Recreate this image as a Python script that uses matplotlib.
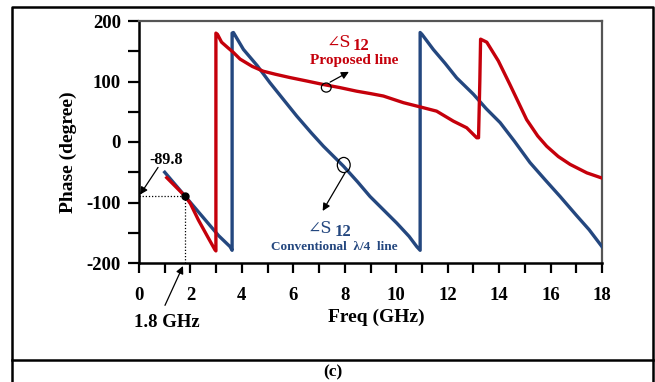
import matplotlib
matplotlib.use("Agg")
import matplotlib.pyplot as plt
from matplotlib.patches import Ellipse
from matplotlib.lines import Line2D

# Conventional quarter-wave line: phase of S12 (degrees) vs frequency (GHz)
conv_freq = [1.0, 1.5, 1.8, 2.24, 2.7, 3.1, 3.54, 3.62,
             3.62, 3.67, 4.06, 4.6, 5.09, 5.6, 6.13, 6.7, 7.17, 7.95, 8.5,
             8.98, 9.5, 10.02, 10.5, 10.8, 10.93,
             10.93, 11.0, 11.44, 11.9, 12.35, 13.0, 13.5, 14.04, 14.6, 15.2,
             15.8, 16.37, 17.0, 17.5, 18.0]
conv_phase = [-50, -75, -90, -112, -135, -155, -173, -179,
              180, 181, 153, 126, 98, 71, 43, 15, -7, -40, -66,
              -90, -112, -134, -156, -173, -179,
              181, 178, 153, 130, 106, 79, 55, 32, 1, -34,
              -63, -90, -121, -145, -173]

# Proposed line: phase of S12 (degrees) vs frequency (GHz)
prop_freq = [1.08, 1.5, 1.8, 2.0, 2.31, 2.7, 2.95, 2.99,
             2.99, 3.05, 3.21, 3.45, 3.67, 3.93, 4.4, 4.83, 5.3, 5.87, 6.5,
             7.17, 7.8, 8.46, 9.0, 9.5, 10.28, 10.93, 11.57, 12.22, 12.74, 13.13, 13.2,
             13.25, 13.28, 13.52, 13.97, 14.42, 15.07, 15.5, 15.85, 16.3, 16.76,
             17.41, 17.99]
prop_phase = [-59, -77, -89.8, -102, -129, -159, -178, -180,
              180, 178, 165, 156, 148, 137, 125, 117, 112, 106.5, 101,
              95, 90, 84, 80, 76, 65, 58, 51, 34.5, 23.5, 7, 7,
              100, 170, 165, 134, 95, 37, 10, -7, -24, -37,
              -51, -59.5]

# Marked operating point
mark_freq = 1.8
mark_phase = -89.8

x_ticks = [0, 2, 4, 6, 8, 10, 12, 14, 16, 18]
y_ticks = [-200, -100, 0, 100, 200]

RED = "#C5000B"
BLUE = "#24477F"
SERIF = ["Liberation Serif", "DejaVu Serif"]

plt.rcParams["font.family"] = SERIF
plt.rcParams["font.weight"] = "bold"

fig = plt.figure(figsize=(6.55, 3.82), dpi=100)
ax = fig.add_axes([139 / 655, 1 - 263 / 382, (602 - 139) / 655, (263 - 21) / 382])

ax.plot(conv_freq, conv_phase, color=BLUE, lw=2.4, solid_joinstyle="round", zorder=3)
ax.plot(prop_freq, prop_phase, color=RED, lw=2.4, solid_joinstyle="round", zorder=4)

ax.set_xlim(0, 18)
ax.set_ylim(-200, 200)
ax.set_xticks(x_ticks)
ax.set_xticks(range(0, 19), minor=True)
ax.set_yticks(y_ticks)
ax.set_yticks(range(-200, 201, 50), minor=True)
ax.set_xticklabels([str(v) for v in x_ticks])
ax.set_yticklabels([str(v) for v in y_ticks])

ax.tick_params(axis="x", which="both", direction="out", length=7, width=1.6, pad=10,
               labelsize=13.5)
ax.tick_params(axis="y", which="both", direction="out", length=8, width=1.6, pad=5,
               labelsize=13.5)
for lab in ax.get_xticklabels() + ax.get_yticklabels():
    lab.set_fontweight("bold")

for side in ("left", "bottom"):
    ax.spines[side].set_linewidth(1.8)
    ax.spines[side].set_color("black")
for side in ("top", "right"):
    ax.spines[side].set_linewidth(1.6)
    ax.spines[side].set_color("#555555")

# Operating point with guide lines
ax.plot([0, mark_freq], [mark_phase, mark_phase], ls=(0, (1, 1.5)), color="black", lw=0.9, zorder=2)
ax.plot([mark_freq, mark_freq], [-200, mark_phase], ls=(0, (1, 1.5)), color="black", lw=0.9,
        zorder=2, clip_on=False)
ax.plot([mark_freq], [mark_phase], "o", color="black", ms=5, zorder=6)

arrow = dict(arrowstyle="-|>", color="black", lw=0.9, mutation_scale=11, shrinkA=0, shrinkB=0)

ax.text(1.07, -29, str(mark_phase), ha="center", va="center", fontsize=11.5, fontweight="bold")
ax.annotate("", xy=(0.04, -87), xytext=(0.74, -42), arrowprops=arrow, annotation_clip=False)

ax.text(1.07, -298, f"{mark_freq} GHz", ha="center", va="center", fontsize=13.5,
        fontweight="bold", clip_on=False)
ax.annotate("", xy=(1.71, -205), xytext=(1.01, -270), arrowprops=arrow, annotation_clip=False)

# Curve labels
ax.add_patch(Ellipse((7.28, 90), 0.38, 15, fill=False, ec="black", lw=0.9, zorder=5))
ax.annotate("", xy=(8.16, 116), xytext=(7.43, 99), arrowprops=arrow)
ax.text(7.31, 164, "∠S", ha="left", va="center", fontsize=11.5, color=RED,
        fontweight="normal", family=["DejaVu Serif"])
ax.text(8.3, 158, "12", ha="left", va="center", fontsize=12, color=RED, fontweight="bold")
ax.text(8.38, 135, "Proposed line", ha="center", va="center", fontsize=11, color=RED,
        fontweight="bold")

ax.add_patch(Ellipse((7.96, -38), 0.5, 25, fill=False, ec="black", lw=0.9, zorder=5))
ax.annotate("", xy=(7.14, -114), xytext=(8.01, -51), arrowprops=arrow)
ax.text(6.55, -143, "∠S", ha="left", va="center", fontsize=11.5, color=BLUE,
        fontweight="normal", family=["DejaVu Serif"])
ax.text(7.62, -149, "12", ha="left", va="center", fontsize=12, color=BLUE, fontweight="bold")
ax.text(7.58, -173, "Conventional  λ/4  line", ha="center", va="center", fontsize=9.5,
        color=BLUE, fontweight="bold")

# Axis titles
fig.text(376 / 655, 1 - 317 / 382, "Freq (GHz)", ha="center", va="center", fontsize=14,
         fontweight="bold")
fig.text(68 / 655, 1 - 152 / 382, "Phase (degree)", ha="center", va="center", fontsize=14,
         fontweight="bold", rotation=90)

# Panel frame and caption
top = 1 - 7 / 382
fig.add_artist(Line2D([12 / 655, 12 / 655, 653 / 655, 653 / 655], [0, top, top, 0],
                      transform=fig.transFigure, color="black", lw=1.8))
fig.add_artist(Line2D([12 / 655, 653 / 655], [1 - 360 / 382, 1 - 360 / 382],
                      transform=fig.transFigure, color="black", lw=1.8))
fig.text(332.5 / 655, 1 - 372 / 382, "(c)", ha="center", va="center", fontsize=12.5,
         fontweight="bold")

fig.savefig("out.png", dpi=100)
